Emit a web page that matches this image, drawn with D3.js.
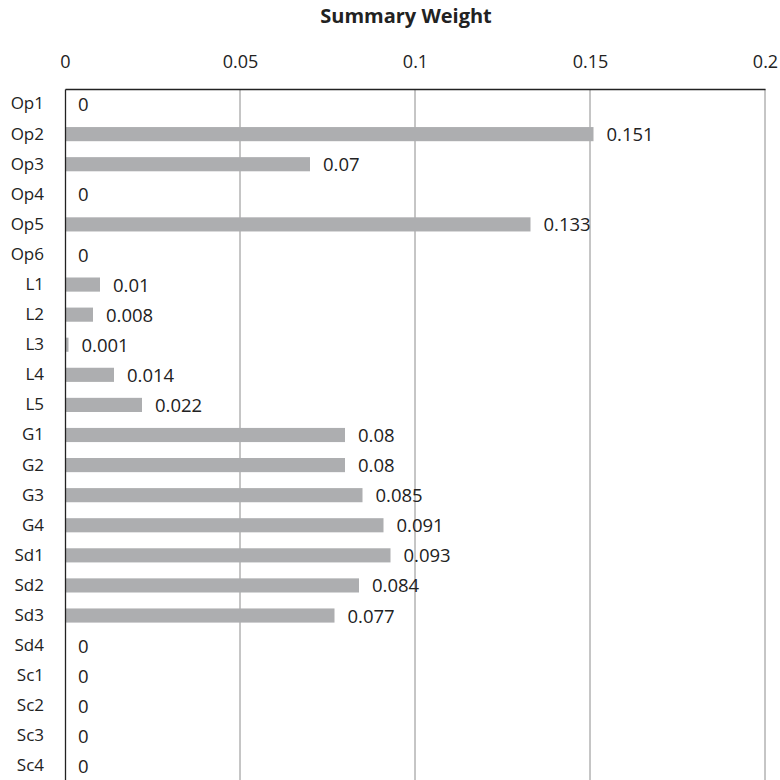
<!DOCTYPE html>
<html><head><meta charset="utf-8">
<script src="https://cdn.jsdelivr.net/npm/d3@7"></script>
<style>body{margin:0;background:#fff}svg{display:block}text{font-family:"Open Sans",sans-serif;fill:#222}</style>
</head><body>
<svg id="c" width="780" height="780"></svg>
<script>
const categories = ["Op1","Op2","Op3","Op4","Op5","Op6","L1","L2","L3","L4","L5","G1","G2","G3","G4","Sd1","Sd2","Sd3","Sd4","Sc1","Sc2","Sc3","Sc4"];
const values = [0,0.151,0.07,0,0.133,0,0.01,0.008,0.001,0.014,0.022,0.08,0.08,0.085,0.091,0.093,0.084,0.077,0,0,0,0,0];
const valueLabels = ["0","0.151","0.07","0","0.133","0","0.01","0.008","0.001","0.014","0.022","0.08","0.08","0.085","0.091","0.093","0.084","0.077","0","0","0","0","0"];
const tickValues = [0,0.05,0.1,0.15,0.2];
const tickLabels = ["0","0.05","0.1","0.15","0.2"];
const title = "Summary Weight";

const svg = d3.select("#c");
const x = d3.scaleLinear().domain([0,0.2]).range([65,765]);
const y = d3.scaleBand().domain(categories).range([89,781]).paddingInner(0.53).paddingOuter(0.265);

// gridlines
svg.append("g").selectAll("line").data(tickValues.slice(1)).join("line")
  .attr("x1",d=>x(d)).attr("x2",d=>x(d)).attr("y1",89).attr("y2",781)
  .attr("stroke","#8c8c8c").attr("stroke-width",1);

// bars
svg.append("g").selectAll("rect").data(values).join("rect")
  .attr("x",x(0)).attr("y",(d,i)=>y(categories[i]))
  .attr("width",d=>x(d)-x(0)).attr("height",y.bandwidth())
  .attr("fill","#adaeb0");

// top axis
const xAxis = d3.axisTop(x).tickValues(tickValues).tickFormat((d,i)=>tickLabels[i]).tickSize(0).tickPadding(21);
const gx = svg.append("g").attr("transform","translate(0,89)").call(xAxis);
gx.select(".domain").attr("stroke","#222").attr("stroke-width",1.3);
gx.selectAll("text").attr("font-size",18).style("font-family","'Open Sans',sans-serif").attr("fill","#222");

// left axis
const yAxis = d3.axisLeft(y).tickSize(0).tickPadding(21);
const gy = svg.append("g").attr("transform","translate(65,0)").call(yAxis);
gy.select(".domain").attr("stroke","#222").attr("stroke-width",1.3);
gy.selectAll("text").attr("font-size",17).style("font-family","'Open Sans',sans-serif").attr("fill","#222");

// value labels
svg.append("g").selectAll("text").data(values).join("text")
  .attr("x",d=>x(d)+13).attr("y",(d,i)=>y(categories[i])+y.bandwidth()/2)
  .attr("dy","0.38em").attr("font-size",18.5).text((d,i)=>valueLabels[i]);

// title
svg.append("text").attr("x",406).attr("y",23).attr("text-anchor","middle")
  .attr("font-size",20).attr("font-weight","bold").text(title);
</script>
</body></html>
